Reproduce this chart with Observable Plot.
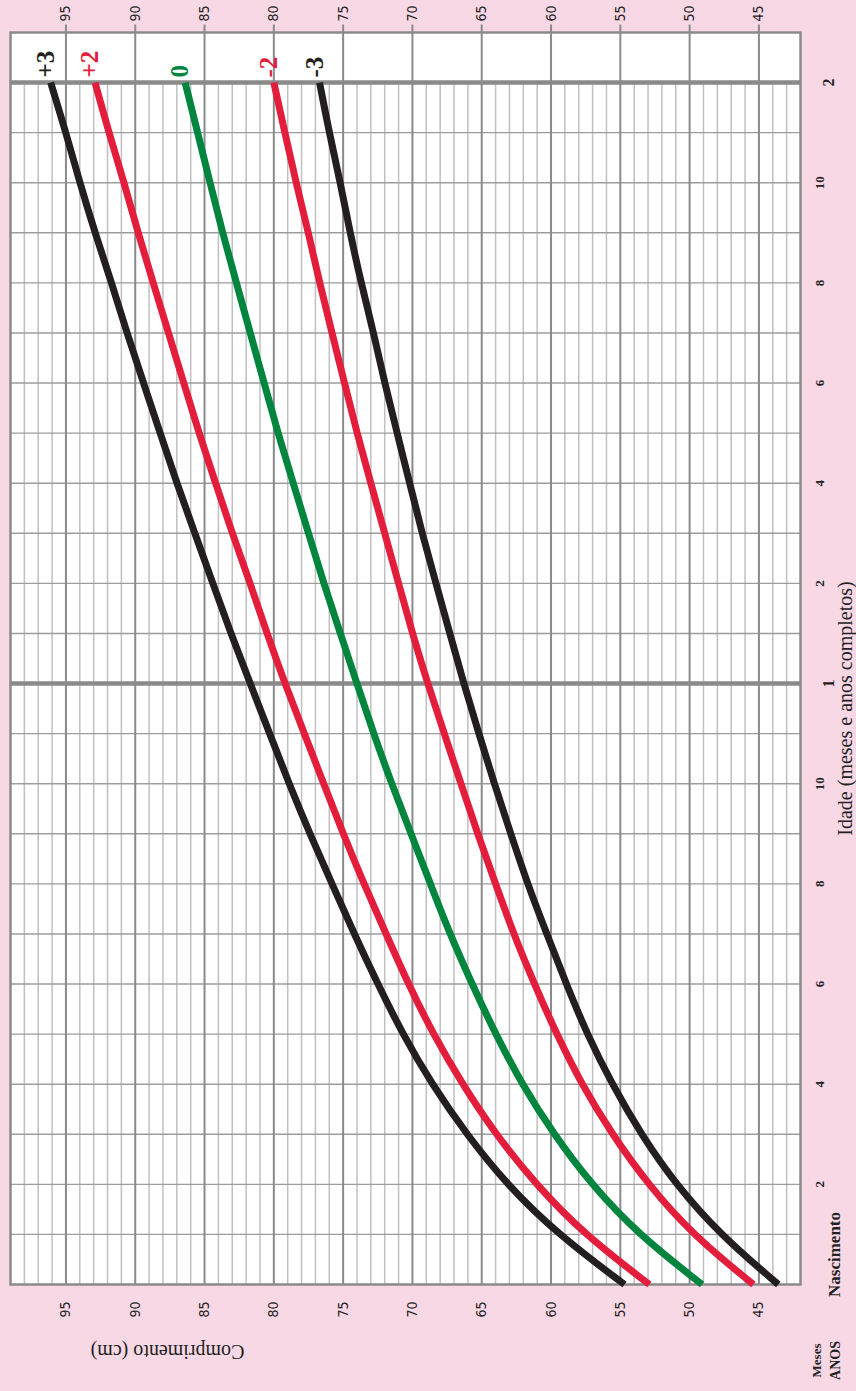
<!DOCTYPE html>
<html><head><meta charset="utf-8">
<script src="https://cdn.jsdelivr.net/npm/d3@7"></script>
<script src="https://cdn.jsdelivr.net/npm/@observablehq/plot@0.6"></script>
<style>
html,body{margin:0;padding:0;background:#f9d8e5;width:856px;height:1391px;overflow:hidden}
#rot{position:absolute;left:0;top:0;width:1391px;height:856px;transform-origin:0 0;transform:translate(0,1391px) rotate(-90deg)}
#rot svg{overflow:visible}
</style></head><body><div id="rot"></div><script>
// Age in completed months (0 = birth)
const ageMonths = [0,1,2,3,4,5,6,7,8,9,10,11,12,13,14,15,16,17,18,19,20,21,22,23,24];
// Length (cm) for each z-score curve
const zNeg3 = [43.6,47.8,51.0,53.5,55.6,57.4,58.9,60.3,61.7,62.9,64.1,65.2,66.3,67.3,68.3,69.3,70.2,71.1,72.0,72.8,73.7,74.5,75.2,76.0,76.7];
const zNeg2 = [45.4,49.8,53.0,55.6,57.8,59.6,61.2,62.7,64.0,65.3,66.5,67.7,68.9,70.0,71.0,72.0,73.0,74.0,74.9,75.8,76.7,77.5,78.4,79.2,80.0];
const z0    = [49.1,53.7,57.1,59.8,62.1,64.0,65.7,67.3,68.7,70.1,71.5,72.8,74.0,75.2,76.4,77.5,78.6,79.7,80.7,81.7,82.7,83.7,84.6,85.5,86.4];
const zPos2 = [52.9,57.6,61.1,64.0,66.4,68.5,70.3,71.9,73.5,75.0,76.4,77.8,79.2,80.5,81.7,83.0,84.2,85.4,86.5,87.6,88.7,89.8,90.8,91.9,92.9];
const zPos3 = [54.7,59.5,63.2,66.1,68.6,70.7,72.5,74.2,75.8,77.4,78.9,80.3,81.7,83.1,84.4,85.7,87.0,88.2,89.4,90.6,91.7,92.9,94.0,95.0,96.1];
const seriesKeys = ["-3","-2","0","+2","+3"];
const seriesColors = ["#231f20","#e31d3c","#00853f","#e31d3c","#231f20"];
const seriesValues = [zNeg3, zNeg2, z0, zPos2, zPos3];

const lengthTicks = [45,50,55,60,65,70,75,80,85,90,95];
const lengthMinor = [43,44,46,47,48,49,51,52,53,54,56,57,58,59,61,62,63,64,66,67,68,69,71,72,73,74,76,77,78,79,81,82,83,84,86,87,88,89,91,92,93,94,96,97,98];
const monthLines = [1,2,3,4,5,6,7,8,9,10,11,13,14,15,16,17,18,19,20,21,22,23];
const monthTicks = [2,4,6,8,10,14,16,18,20,22];
const monthTickLabels = ["2","4","6","8","10","2","4","6","8","10"];
const yearTicks = [12,24];
const yearTickLabels = ["1","2"];

const xTitle = "Idade (meses e anos completos)";
const yTitle = "Comprimento (cm)";
const birthLabel = "Nascimento";

const serif = "'Liberation Serif','DejaVu Serif',serif";
const narrow = "'Liberation Sans Narrow','DejaVu Sans Condensed','Liberation Sans',sans-serif";

const lineMarks = seriesKeys.map((k, si) => Plot.line(
  ageMonths.map((m, i) => ({age: m, len: seriesValues[si][i]})),
  {x: "age", y: "len", stroke: seriesColors[si], strokeWidth: 7, curve: "basis", strokeLinecap: "butt"}
));
const labelMarks = seriesKeys.map((k, si) => Plot.text([k], {
  x: () => 24, y: () => seriesValues[si][24], text: d => d,
  dx: 5, dy: -5, textAnchor: "start", lineAnchor: "middle", fill: seriesColors[si],
  fontFamily: serif, fontWeight: "bold", fontSize: 25
}));

const lbl = {fontFamily: serif, fill: "#222", textAnchor: "middle", lineAnchor: "middle"};

const chart = Plot.plot({
  width: 1391, height: 856,
  marginLeft: 106, marginRight: 33, marginTop: 10, marginBottom: 56,
  x: {domain: [0, 25], axis: null},
  y: {domain: [42, 99], axis: null},
  style: {background: "transparent", overflow: "visible"},
  marks: [
    Plot.frame({fill: "white"}),
    Plot.ruleY(lengthMinor, {x1: 0, x2: 24, stroke: "#c0c0c0", strokeWidth: 1.5}),
    Plot.ruleX(monthLines, {stroke: "#9d9d9d", strokeWidth: 1.4}),
    Plot.ruleY(lengthTicks, {x1: 0, x2: 25.17, stroke: "#8a8a8a", strokeWidth: 2}),
    Plot.ruleX(yearTicks, {stroke: "#8a8a8a", strokeWidth: 4.5}),
    Plot.frame({stroke: "#8a8a8a", strokeWidth: 2.5}),
    ...lineMarks,
    ...labelMarks,
    Plot.text(lengthTicks, {y: d => d, text: d => String(d), frameAnchor: "left", dx: -17, textAnchor: "end", lineAnchor: "middle", fontFamily: narrow, fontSize: 14, fill: "#222"}),
    Plot.text(lengthTicks, {y: d => d, text: d => String(d), frameAnchor: "right", dx: 11, textAnchor: "start", lineAnchor: "middle", fontFamily: narrow, fontSize: 14, fill: "#222"}),
    Plot.text(monthTicks, {...lbl, x: d => d, text: (d, i) => monthTickLabels[i], frameAnchor: "bottom", dy: 19, fontWeight: "bold", fontSize: 13}),
    Plot.text(yearTicks, {...lbl, x: d => d, text: (d, i) => yearTickLabels[i], frameAnchor: "bottom", dy: 28, fontWeight: "bold", fontSize: 16}),
    Plot.text([birthLabel], {...lbl, text: d => d, frameAnchor: "bottom-left", dx: 30, dy: 34, fontWeight: "bold", fontSize: 17}),
    Plot.text(["Meses"], {...lbl, text: d => d, frameAnchor: "bottom-left", dx: -76, dy: 16, fontWeight: "bold", fontSize: 13}),
    Plot.text(["ANOS"], {...lbl, text: d => d, frameAnchor: "bottom-left", dx: -76, dy: 35, fontWeight: "bold", fontSize: 14}),
    Plot.text([xTitle], {...lbl, text: d => d, frameAnchor: "bottom", dx: -50, dy: 45, fontSize: 20}),
    Plot.text([yTitle], {...lbl, text: d => d, frameAnchor: "top-left", dx: -67, dy: 157, rotate: -90, fontSize: 20})
  ]
});
document.getElementById("rot").appendChild(chart);
</script></body></html>
